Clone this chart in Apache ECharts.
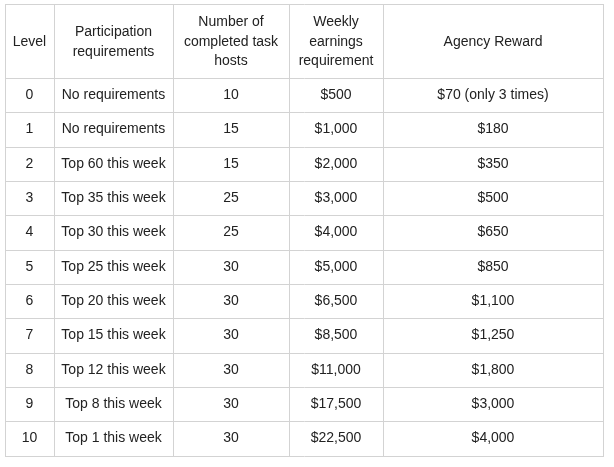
<!DOCTYPE html>
<html><head><meta charset="utf-8">
<script src="https://cdn.jsdelivr.net/npm/echarts@6/dist/echarts.min.js"></script>
<style>html,body{margin:0;background:#fff}#c{width:614px;height:467px}</style>
</head><body><div id="c"></div>
<script>
var headers = ["Level", "Participation\nrequirements", "Number of\ncompleted task\nhosts", "Weekly\nearnings\nrequirement", "Agency Reward"];
var levels = ["0","1","2","3","4","5","6","7","8","9","10"];
var participation = ["No requirements","No requirements","Top 60 this week","Top 35 this week","Top 30 this week","Top 25 this week","Top 20 this week","Top 15 this week","Top 12 this week","Top 8 this week","Top 1 this week"];
var hosts = ["10","15","15","25","25","30","30","30","30","30","30"];
var earnings = ["$500","$1,000","$2,000","$3,000","$4,000","$5,000","$6,500","$8,500","$11,000","$17,500","$22,500"];
var rewards = ["$70 (only 3 times)","$180","$350","$500","$650","$850","$1,100","$1,250","$1,800","$3,000","$4,000"];

(function(){
var colX = [5, 54, 173, 289, 383, 603];
var tableTop = 4, headH = 74, rowH = 34.33;
var columns = [levels, participation, hosts, earnings, rewards];
var nRows = levels.length;
var tableBottom = tableTop + headH + rowH * nRows;
var els = [];
function lineSt(){ return {stroke: '#d3d3d3', lineWidth: 1}; }
function hl(y){ els.push({type:'line', shape:{x1:colX[0],y1:y,x2:colX[5]+1,y2:y}, style:lineSt()}); }
function vl(x){ els.push({type:'line', shape:{x1:x,y1:tableTop,x2:x,y2:Math.round(tableBottom)+1}, style:lineSt()}); }
hl(tableTop + 0.5);
for (var r = 0; r <= nRows; r++) hl(Math.round(tableTop + headH + rowH * r) + 0.5);
colX.forEach(function(x){ vl(x + 0.5); });
function txt(s, cx, cy){
  els.push({type:'text', x: cx, y: cy, style:{text:s, align:'center', verticalAlign:'middle', fill:'#222', font:'14px "Liberation Sans", Arial, sans-serif', lineHeight:19.5}});
}
headers.forEach(function(h, c){ txt(h, (colX[c]+colX[c+1])/2, tableTop + headH/2 + 1); });
columns.forEach(function(col, c){
  col.forEach(function(v, r){ txt(v, (colX[c]+colX[c+1])/2, tableTop + headH + rowH*(r+0.5)); });
});
var chart = echarts.init(document.getElementById('c'), null, {renderer:'canvas'});
chart.setOption({animation:false, backgroundColor:'#fff', graphic:{elements: els}});
})();
</script></body></html>
